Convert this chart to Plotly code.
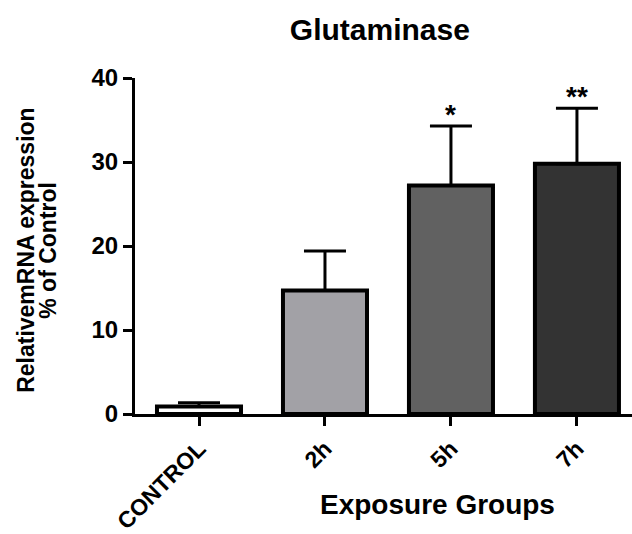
import plotly.graph_objects as go

categories = ["CONTROL", "2h", "5h", "7h"]
values = [0.9, 14.7, 27.2, 29.8]
errors = [0.45, 4.7, 7.1, 6.6]
colors = ["#ffffff", "#a2a1a6", "#616161", "#333333"]
stars = ["", "", "*", "**"]
y_ticks = [0, 10, 20, 30, 40]

FONT = "Liberation Sans, Arial, sans-serif"

fig = go.Figure()
fig.add_trace(go.Bar(
    x=categories, y=values, width=0.667,
    marker=dict(color=colors, line=dict(color="black", width=4)),
    error_y=dict(type="data", array=errors, arrayminus=[0] * 4, symmetric=False,
                 color="black", thickness=3, width=21),
    showlegend=False,
))

for c, v, e, s in zip(categories, values, errors, stars):
    if s:
        fig.add_annotation(x=c, y=v + e, text=s, showarrow=False, yanchor="bottom",
                           yshift=-6, font=dict(family=FONT, size=28, color="black", weight="bold"))

fig.add_annotation(xref="paper", yref="paper", x=0.608, y=-0.269, text="Exposure Groups",
                   showarrow=False, xanchor="center", yanchor="middle",
                   font=dict(family=FONT, size=28, color="black", weight="bold"))
fig.add_annotation(xref="paper", yref="paper", x=-0.219, y=0.486, text="RelativemRNA expression",
                   textangle=-90, showarrow=False, xanchor="center", yanchor="middle",
                   font=dict(family=FONT, size=23, color="black", weight="bold"))
fig.add_annotation(xref="paper", yref="paper", x=-0.175, y=0.486, text="% of Control",
                   textangle=-90, showarrow=False, xanchor="center", yanchor="middle",
                   font=dict(family=FONT, size=23, color="black", weight="bold"))

fig.update_layout(
    width=632, height=534,
    margin=dict(l=135, r=0, t=78, b=120),
    paper_bgcolor="white", plot_bgcolor="white",
    title=dict(text="Glutaminase", x=0.601, xanchor="center", y=0.944, yanchor="middle",
               font=dict(family=FONT, size=30, color="black", weight="bold")),
    xaxis=dict(range=[-0.508, 3.437], showline=True, linecolor="black", linewidth=3,
               ticks="outside", tickwidth=3, ticklen=9, tickcolor="black", tickangle=-45,
               tickfont=dict(family=FONT, size=23, color="black", weight="bold"),
               showgrid=False, zeroline=False, automargin=False),
    yaxis=dict(range=[0, 40], tickvals=y_ticks, showline=True, linecolor="black", linewidth=3,
               ticks="outside", tickwidth=3, ticklen=9, tickcolor="black",
               tickfont=dict(family=FONT, size=24, color="black", weight="bold"),
               showgrid=False, zeroline=False, automargin=False),
)

fig.write_html("out.html", config={"displayModeBar": False},
               post_script="document.body.style.margin='0';document.body.style.overflow='hidden';")
